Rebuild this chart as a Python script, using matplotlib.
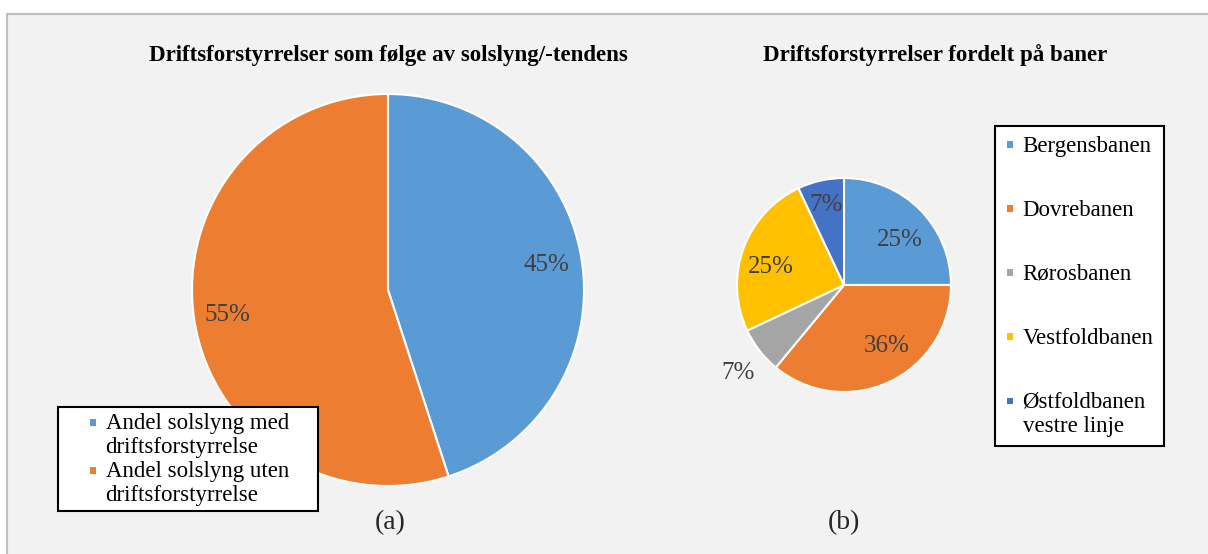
import matplotlib
matplotlib.use('Agg')
import matplotlib.pyplot as plt
import numpy as np
from matplotlib.patches import Rectangle
from matplotlib.legend_handler import HandlerPatch

plt.rcParams['font.family'] = ['Liberation Serif', 'DejaVu Serif']

##      DATA       ##
title_a = 'Driftsforstyrrelser som følge av solslyng/-tendens'
labels_a = ['Andel solslyng med\ndriftsforstyrrelse', 'Andel solslyng uten\ndriftsforstyrrelse']
values_a = [45, 55]
colors_a = ['#5B9BD5', '#ED7D31']

title_b = 'Driftsforstyrrelser fordelt på baner'
labels_b = ['Bergensbanen', 'Dovrebanen', 'Rørosbanen', 'Vestfoldbanen', 'Østfoldbanen\nvestre linje']
values_b = [25, 36, 7, 25, 7]
colors_b = ['#5B9BD5', '#ED7D31', '#A5A5A5', '#FFC000', '#4472C4']

# label placement (Excel "best fit" look): radius factor + angle nudge per slice
lab_r_a = [0.82, 0.83]
lab_da_a = [0, 0]
lab_r_b = [0.67, 0.70, 1.29, 0.70, 0.77]
lab_da_b = [-6, 10, 2, 6, 0]

W, H = 1208, 554
FS = 16.5

fig = plt.figure(figsize=(W / 100, H / 100), dpi=100)
fig.patch.set_facecolor('white')


def fx(px):
    return px / W


def fy(py):
    return 1 - py / H


# gray panel
fig.add_artist(Rectangle((fx(7), fy(560)), fx(1210) - fx(7), fy(14) - fy(560),
                         transform=fig.transFigure, facecolor='#F2F2F2',
                         edgecolor='#BFBFBF', linewidth=1.5, zorder=0))


def draw_pie(cx, cy, r, values, colors, lab_r, lab_da):
    ax = fig.add_axes([fx(cx - r), fy(cy + r), (2 * r) / W, (2 * r) / H])
    wedges, _ = ax.pie(values, colors=colors, startangle=90, counterclock=False,
                       wedgeprops=dict(edgecolor='white', linewidth=1.5))
    ax.set_xlim(-1, 1)
    ax.set_ylim(-1, 1)
    ax.set_axis_off()
    for w, v, rr, da in zip(wedges, values, lab_r, lab_da):
        ang = np.deg2rad((w.theta1 + w.theta2) / 2 + da)
        ax.text(rr * np.cos(ang), rr * np.sin(ang), '%d%%' % v, ha='center', va='center',
                fontsize=18, color='#404040', clip_on=False)
    return wedges


wedges_a = draw_pie(388, 290, 196, values_a, colors_a, lab_r_a, lab_da_a)
wedges_b = draw_pie(844, 285, 107, values_b, colors_b, lab_r_b, lab_da_b)

fig.text(fx(388), fy(55), title_a, ha='center', va='center', fontsize=FS, fontweight='bold')
fig.text(fx(935), fy(55), title_b, ha='center', va='center', fontsize=FS, fontweight='bold')
fig.text(fx(390), fy(523), '(a)', ha='center', va='center', fontsize=20, color='#262626')
fig.text(fx(844), fy(523), '(b)', ha='center', va='center', fontsize=20, color='#262626')


##      LEGENDS       ##
def square_marker(legend, orig_handle, xdescent, ydescent, width, height, fontsize):
    s = 0.28 * fontsize
    y0 = 0.32 * fontsize - s / 2
    if orig_handle.get_gid() == 'multi':
        y0 += 0.6 * fontsize
    return Rectangle((-xdescent, y0), s, s)


def proxies(colors, labels):
    out = []
    for c, lab in zip(colors, labels):
        p = Rectangle((0, 0), 1, 1, facecolor=c, edgecolor='none', linewidth=0)
        if '\n' in lab:
            p.set_gid('multi')
        out.append(p)
    return out


hmap = {Rectangle: HandlerPatch(patch_func=square_marker)}

fig.add_artist(Rectangle((fx(58), fy(511)), fx(318) - fx(58), fy(407) - fy(511),
                         transform=fig.transFigure, facecolor='white',
                         edgecolor='black', linewidth=1.5, zorder=2))
fig.add_artist(Rectangle((fx(995), fy(446)), fx(1164) - fx(995), fy(126) - fy(446),
                         transform=fig.transFigure, facecolor='white',
                         edgecolor='black', linewidth=1.5, zorder=2))

leg_a = fig.legend(proxies(colors_a, labels_a), labels_a, loc='upper left',
                   bbox_to_anchor=(fx(90), fy(413)),
                   frameon=False, fontsize=FS, handlelength=0.28, handletextpad=0.4,
                   borderpad=0, borderaxespad=0, labelspacing=0.12, handler_map=hmap)
leg_b = fig.legend(proxies(colors_b, labels_b), labels_b, loc='upper left',
                   bbox_to_anchor=(fx(1007), fy(136)),
                   frameon=False, fontsize=FS, handlelength=0.28, handletextpad=0.4,
                   borderpad=0, borderaxespad=0, labelspacing=1.87, handler_map=hmap)
for leg in (leg_a, leg_b):
    leg.set_zorder(5)
    for t in leg.get_texts():
        t.set_linespacing(1.2)
        t.set_color('black')

fig.savefig('out.png', dpi=100)
